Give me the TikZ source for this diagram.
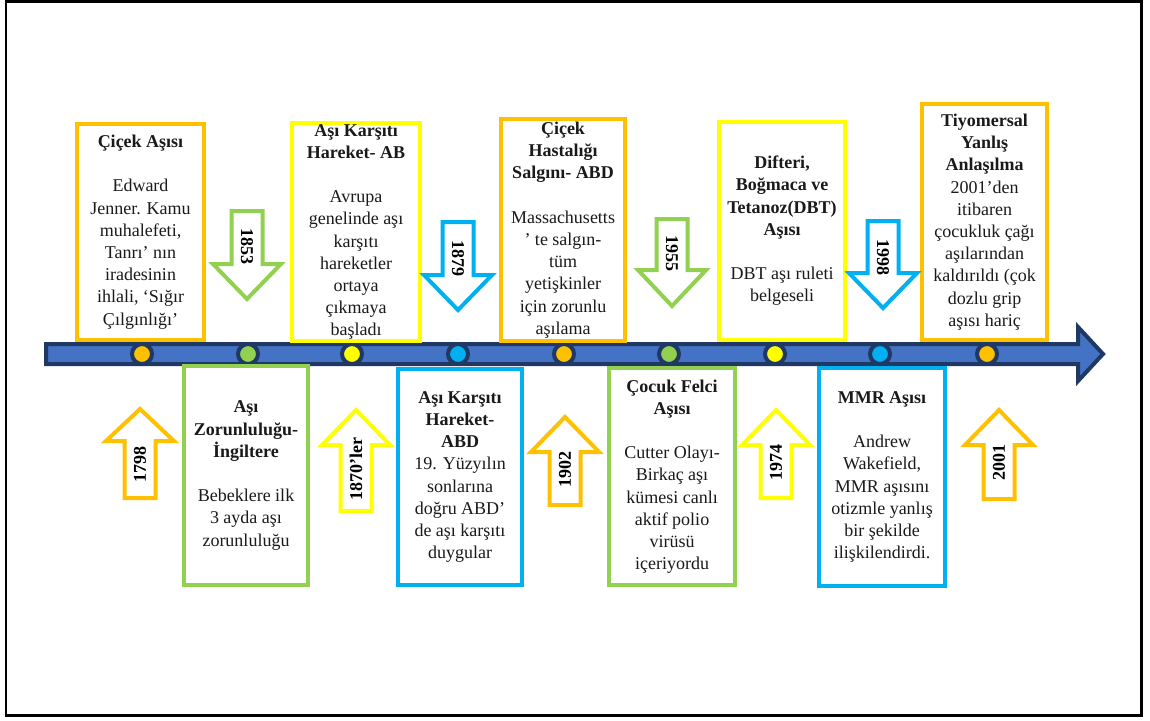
\documentclass[tikz,border=0pt]{standalone}
\usepackage{fontspec}
\setmainfont{Liberation Serif}
\definecolor{cOrange}{HTML}{FFC000}
\definecolor{cYellow}{HTML}{FFFF00}
\definecolor{cGreen}{HTML}{92D050}
\definecolor{cBlue}{HTML}{00B0F0}
\definecolor{barFill}{HTML}{4472C4}
\definecolor{barEdge}{HTML}{1F3864}
\definecolor{txt}{HTML}{1A1A1A}
\tikzset{
  evbox/.style={draw=#1, fill=white, line width=4pt, align=center, inner sep=0pt,
    font=\fontsize{18}{22.2}\selectfont, text=txt},
  evdot/.style={circle, draw=barEdge, fill=#1, line width=4pt, minimum size=20pt, inner sep=0pt},
  blockarrow/.style={draw=#1, fill=white, line width=4pt, line join=miter},
  yearlbl/.style={font=\fontsize{18}{20}\selectfont\bfseries, text=black, inner sep=0pt},
}
% down arrow: #1 name, #2 colour, #3 cx, #4 top, #5 head base, #6 tip, #7 label y, #8 label
\newcommand\DArrowShape[8]{%
  \draw[blockarrow=#2] (#3-15.5,#4) -- (#3+15.5,#4) -- (#3+15.5,#5) -- (#3+34,#5) -- (#3,#6)
    -- (#3-34,#5) -- (#3-15.5,#5) -- cycle;
  \node[yearlbl, rotate=-90] (#1) at (#3,#7) {#8};}
% up arrow: #1 name, #2 colour, #3 cx, #4 bottom, #5 head base, #6 tip, #7 label y, #8 label
\newcommand\UArrowShape[8]{%
  \draw[blockarrow=#2] (#3-15.5,#4) -- (#3+15.5,#4) -- (#3+15.5,#5) -- (#3+34,#5) -- (#3,#6)
    -- (#3-34,#5) -- (#3-15.5,#5) -- cycle;
  \node[yearlbl, rotate=90] (#1) at (#3,#7) {#8};}
\begin{document}
\begin{tikzpicture}[x=1pt, y=-1pt]
\useasboundingbox (0,0) rectangle (1150,720);
% outer frame
\draw[line width=2.5pt, black] (6,1.5) rectangle (1141.5,715.5);
% timeline bar
\draw[fill=barFill, draw=barEdge, line width=4pt, line join=miter]
  (46,344) -- (1078,344) -- (1078,327) -- (1103,354) -- (1078,381) -- (1078,364) -- (46,364) -- cycle;
% dots
\node[evdot=cOrange] (d1) at (142,354) {};
\node[evdot=cGreen]  (d2) at (248,354) {};
\node[evdot=cYellow] (d3) at (352,354) {};
\node[evdot=cBlue]   (d4) at (458,354) {};
\node[evdot=cOrange] (d5) at (564,354) {};
\node[evdot=cGreen]  (d6) at (669,354) {};
\node[evdot=cYellow] (d7) at (775,354) {};
\node[evdot=cBlue]   (d8) at (880,354) {};
\node[evdot=cOrange] (d9) at (987,354) {};
% top boxes
\node[evbox=cOrange, minimum width=127pt, minimum height=216pt] (t1) at (140.5,232)
  {\textbf{Çiçek Aşısı}\\[22.2pt] Edward\\ Jenner. Kamu\\ muhalefeti,\\ Tanrı’ nın\\ iradesinin\\ ihlali, ‘Sığır\\ Çılgınlığı’};
\node[evbox=cYellow, minimum width=128pt, minimum height=218pt] (t2) at (356,232)
  {\textbf{Aşı Karşıtı}\\ \textbf{Hareket- AB}\\[22.2pt] Avrupa\\ genelinde aşı\\ karşıtı\\ hareketler\\ ortaya\\ çıkmaya\\ başladı};
\node[evbox=cOrange, minimum width=124pt, minimum height=222pt] (t3) at (563,230)
  {\textbf{Çiçek}\\ \textbf{Hastalığı}\\ \textbf{Salgını- ABD}\\[22.2pt] Massachusetts\\ ’ te salgın-\\ tüm\\ yetişkinler\\ için zorunlu\\ aşılama};
\node[evbox=cYellow, minimum width=126pt, minimum height=218pt] (t4) at (782,231)
  {\textbf{Difteri,}\\ \textbf{Boğmaca ve}\\ \textbf{Tetanoz(DBT)}\\ \textbf{Aşısı}\\[22.2pt] DBT aşı ruleti\\ belgeseli};
\node[evbox=cOrange, minimum width=125pt, minimum height=236pt] (t5) at (984.5,222)
  {\textbf{Tiyomersal}\\ \textbf{Yanlış}\\ \textbf{Anlaşılma}\\ 2001’den\\ itibaren\\ çocukluk çağı\\ aşılarından\\ kaldırıldı (çok\\ dozlu grip\\ aşısı hariç};
% bottom boxes
\node[evbox=cGreen, minimum width=124pt, minimum height=219pt] (b1) at (246,475.5)
  {\textbf{Aşı}\\ \textbf{Zorunluluğu-}\\ \textbf{İngiltere}\\[22.2pt] Bebeklere ilk\\ 3 ayda aşı\\ zorunluluğu};
\node[evbox=cBlue, minimum width=124pt, minimum height=216pt] (b2) at (460,477)
  {\textbf{Aşı Karşıtı}\\ \textbf{Hareket-}\\ \textbf{ABD}\\ 19. Yüzyılın\\ sonlarına\\ doğru ABD’\\ de aşı karşıtı\\ duygular};
\node[evbox=cGreen, minimum width=126pt, minimum height=217pt] (b3) at (672,476.5)
  {\textbf{Çocuk Felci}\\ \textbf{Aşısı}\\[22.2pt] Cutter Olayı-\\ Birkaç aşı\\ kümesi canlı\\ aktif polio\\ virüsü\\ içeriyordu};
\node[evbox=cBlue, minimum width=126pt, minimum height=218pt] (b4) at (882,477)
  {\textbf{MMR Aşısı}\\[22.2pt] Andrew\\ Wakefield,\\ MMR aşısını\\ otizmle yanlış\\ bir şekilde\\ ilişkilendirdi.};
% year arrows (down)
\DArrowShape{y1853}{cGreen}{247}{211}{264}{299}{246}{1853}
\DArrowShape{y1879}{cBlue}{458}{222}{275}{310}{258}{1879}
\DArrowShape{y1955}{cGreen}{672}{219}{270}{306}{253}{1955}
\DArrowShape{y1998}{cBlue}{883}{221}{273}{308}{257}{1998}
% year arrows (up)
\UArrowShape{y1798}{cOrange}{140}{498}{441}{409}{464}{1798}
\UArrowShape{y1870}{cYellow}{356}{511}{445}{410}{469}{1870’ler}
\UArrowShape{y1902}{cOrange}{565}{505}{452}{417}{469}{1902}
\UArrowShape{y1974}{cYellow}{776}{498}{445}{410}{462}{1974}
\UArrowShape{y2001}{cOrange}{999}{499}{445}{410}{462}{2001}
\end{tikzpicture}
\end{document}
